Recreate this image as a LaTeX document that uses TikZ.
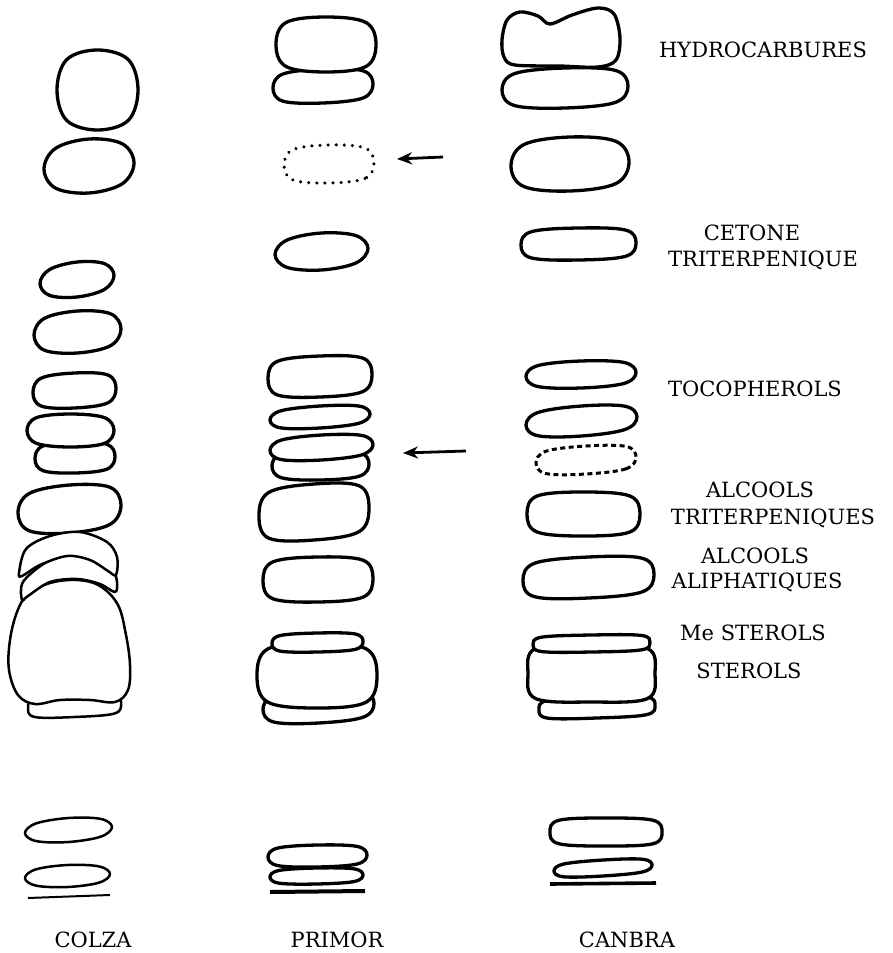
\documentclass[tikz,border=0pt]{standalone}
\usepackage{fontspec}
\setmainfont{DejaVu Serif}
\usetikzlibrary{arrows.meta}
\tikzset{
  spotline/.style={line width=3.3pt, line join=round, fill=white, draw=black},
  thinspot/.style={spotline, line width=2.5pt},
  dottedspot/.style={line width=3.4pt, line cap=round, dash pattern=on 0.1pt off 8pt, fill=none},
  dashedspot/.style={line width=3pt, dash pattern=on 5pt off 3.5pt, fill=none},
  arrowline/.style={line width=2.8pt, -{Stealth[length=15pt,width=12pt]}},
  lbl/.style={font=\fontsize{21}{24}\selectfont, inner sep=0pt, anchor=base}
}
% \spot[style]{x1}{y1}{x2}{y2}{tilt}{squareness}
\newcommand\spot[7][]{%
  \pgfmathsetmacro\sCx{(#2+#4)/2}%
  \pgfmathsetmacro\sCy{(#3+#5)/2}%
  \pgfmathsetmacro\sRx{(#4-#2)/2}%
  \pgfmathsetmacro\sRy{(#5-#3)/2}%
  \pgfmathsetmacro\sAx{\sCx+#7*\sRx}%
  \pgfmathsetmacro\sBx{\sCx-#7*\sRx}%
  \pgfmathsetmacro\sT{#6*#7}%
  \pgfmathsetmacro\sPa{\sCy-#6}%
  \pgfmathsetmacro\sPb{\sCy+#7*\sRy-\sT}%
  \pgfmathsetmacro\sPc{\sCy+#7*\sRy+\sT}%
  \pgfmathsetmacro\sPd{\sCy+#6}%
  \pgfmathsetmacro\sPe{\sCy-#7*\sRy+\sT}%
  \pgfmathsetmacro\sPf{\sCy-#7*\sRy-\sT}%
  \draw[spotline,#1] plot[smooth cycle, tension=0.6] coordinates {
    (#4,\sPa) (\sAx,\sPb) (\sCx,#5) (\sBx,\sPc)
    (#2,\sPd) (\sBx,\sPe) (\sCx,#3) (\sAx,\sPf)};%
}
\begin{document}
\begin{tikzpicture}[x=1pt,y=-1pt]
\useasboundingbox[fill=white] (0,0) rectangle (893,953);

% ---------------- COLZA ----------------
\spot{57}{50}{138}{130}{0}{0.76}
\spot{44}{139}{134}{193}{3}{0.74}
\spot{40}{262}{114}{297}{4}{0.74}
\spot{34}{311}{121}{353}{3}{0.76}
\spot{33}{373}{116}{408}{2}{0.8}
\spot{35}{442}{115}{473}{1}{0.8}
\spot{27}{414}{114}{447}{0}{0.78}
\spot{18}{485}{121}{533}{4}{0.78}
\spot[thinspot]{28}{695}{121}{717}{2}{0.85}
\draw[thinspot] plot[smooth cycle, tension=0.6] coordinates {
  (77,580) (100,586) (118,605) (126,635) (130,665) (128,690) (115,702)
  (90,700) (60,700) (35,704) (18,695) (9,670) (10,640) (17,612) (28,594) (50,583)};
\draw[thinspot] plot[smooth cycle, tension=0.55] coordinates {
  (22,600) (23,582) (45,563) (70,554) (92,557) (112,569) (117,582)
  (115,592) (100,584) (77,579) (50,582) (28,596)};
\draw[thinspot] plot[smooth cycle, tension=0.55] coordinates {
  (19,573) (26,549) (50,536) (80,532) (107,542) (117,557) (116,575)
  (108,571) (90,560) (67,556) (40,565) (22,576)};
\spot[thinspot]{25}{818}{112}{842}{3}{0.74}
\spot[thinspot]{25}{865}{110}{887}{2}{0.74}
\coordinate (cl1) at (28,898);
\coordinate (cl2) at (110,895);
\draw[line width=2pt] (cl1) -- (cl2);

% ---------------- PRIMOR ----------------
\spot{273}{69}{373}{103}{2}{0.8}
\spot{276}{17}{376}{72}{0}{0.8}
\spot[dottedspot]{284}{145}{374}{183}{1}{0.8}
\spot{275}{233}{368}{270}{3}{0.74}
\spot{268}{356}{372}{397}{2}{0.82}
\spot{270}{406}{370}{428}{3}{0.78}
\spot{272}{450}{369}{480}{1}{0.8}
\spot{270}{435}{373}{460}{3}{0.78}
\spot{259}{484}{369}{540}{4}{0.82}
\spot{263}{557}{373}{602}{1}{0.82}
\spot{263}{690}{374}{723}{3}{0.8}
\spot{257}{643}{377}{708}{0}{0.82}
\spot{272}{633}{363}{652}{1}{0.82}
\spot{268}{845}{367}{867}{1}{0.8}
\spot{270}{868}{363}{884}{1}{0.8}
\coordinate (pl1) at (270,892);
\coordinate (pl2) at (365,891);
\draw[line width=4pt] (pl1) -- (pl2);

% arrows
\coordinate (a1s) at (443,157);
\coordinate (a1e) at (397,159);
\draw[arrowline] (a1s) -- (a1e);
\coordinate (a2s) at (466,451);
\coordinate (a2e) at (403,453);
\draw[arrowline] (a2s) -- (a2e);

% ---------------- CANBRA ----------------
\spot{502}{68}{628}{108}{2}{0.8}
\draw[spotline] plot[smooth cycle, tension=0.55] coordinates {
  (502,40) (507,20) (520,12) (538,16) (550,24) (572,15) (598,8) (614,14)
  (620,38) (616,60) (598,67) (560,66) (515,65) (504,57)};
\spot{511}{137}{629}{191}{2}{0.78}
\spot{521}{228}{636}{260}{1}{0.82}
\spot{526}{361}{636}{388}{2}{0.78}
\spot{526}{406}{637}{436}{4}{0.78}
\spot[dashedspot]{536}{446}{636}{474}{3}{0.8}
\spot{527}{492}{640}{536}{0}{0.82}
\spot{523}{557}{654}{598}{3}{0.82}
\spot{539}{697}{655}{718}{2}{0.85}
\spot{528}{645}{655}{702}{0}{0.88}
\spot{533}{635}{650}{652}{1}{0.85}
\spot{550}{818}{662}{846}{0}{0.84}
\spot{554}{860}{652}{876}{3}{0.8}
\coordinate (nl1) at (550,884);
\coordinate (nl2) at (656,883);
\draw[line width=3.6pt] (nl1) -- (nl2);

% ---------------- labels ----------------
\node[lbl] (hyd) at (763,57) {HYDROCARBURES};
\node[lbl] (cet1) at (752,240) {CETONE};
\node[lbl] (cet2) at (763,266) {TRITERPENIQUE};
\node[lbl] (toc) at (755,396) {TOCOPHEROLS};
\node[lbl] (alt1) at (760,497) {ALCOOLS};
\node[lbl] (alt2) at (773,524) {TRITERPENIQUES};
\node[lbl] (ala1) at (755,563) {ALCOOLS};
\node[lbl] (ala2) at (757,588) {ALIPHATIQUES};
\node[lbl] (mes) at (753,640) {Me STEROLS};
\node[lbl] (ste) at (749,678) {STEROLS};
\node[lbl] (colza) at (93,947) {COLZA};
\node[lbl] (primor) at (337,947) {PRIMOR};
\node[lbl] (canbra) at (627,947) {CANBRA};
\end{tikzpicture}
\end{document}
